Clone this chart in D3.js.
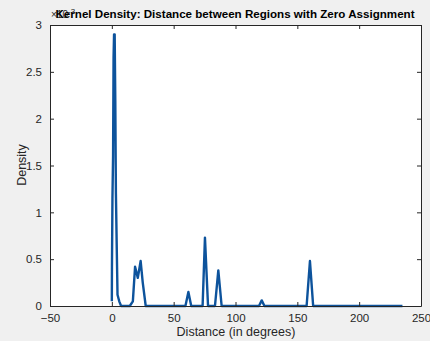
<!DOCTYPE html>
<html>
<head>
<meta charset="utf-8">
<script src="https://cdn.jsdelivr.net/npm/d3@7"></script>
<style>
  body { margin: 0; background: #f0f0f0; }
  text { font-family: "Liberation Sans", Arial, sans-serif; fill: #262626; }
</style>
</head>
<body>
<div id="chart"></div>
<script>
// distance in degrees
var distances = [0, 0.1, 0.5, 1, 1.4, 1.8, 2.3, 2.8, 3.3, 4, 4.6, 6, 7.5,
  14.5, 17, 18.8, 21, 23.3, 25, 27.4,
  59.5, 61.9, 64.2,
  73.4, 75.3, 77.8, 83.4, 86.1, 88.8,
  119, 121.2, 123.4,
  157.5, 160.2, 162.8, 235];
// density (x 10^-3)
var density = [0.05, 0.42, 1.15, 1.6, 2.65, 2.9, 2.9, 2.2, 1.2, 0.6, 0.12, 0.05, 0,
  0, 0.05, 0.42, 0.3, 0.48, 0.25, 0,
  0, 0.15, 0,
  0, 0.73, 0, 0, 0.38, 0,
  0, 0.06, 0,
  0, 0.48, 0, 0];
var xTicks = [-50, 0, 50, 100, 150, 200, 250];
var yTicks = [0, 0.5, 1, 1.5, 2, 2.5, 3];

var W = 430, H = 341;
var margin = {top: 25, right: 9, bottom: 35, left: 50};
var width = W - margin.left - margin.right;
var height = H - margin.top - margin.bottom;

var data = distances.map(function(d, i) { return {x: d, y: density[i]}; });

var svg = d3.select("#chart").append("svg")
  .attr("width", W).attr("height", H);

var g = svg.append("g")
  .attr("transform", "translate(" + margin.left + "," + margin.top + ")");

var xScale = d3.scaleLinear().domain([-50, 250]).range([0, width]);
var yScale = d3.scaleLinear().domain([0, 3]).range([height, 0]);

// plot area
g.append("rect")
  .attr("width", width).attr("height", height)
  .attr("fill", "#ffffff");

// curve
var line = d3.line()
  .x(function(d) { return xScale(d.x); })
  .y(function(d) { return yScale(d.y); });

g.append("path")
  .datum(data)
  .attr("d", line)
  .attr("fill", "none")
  .attr("stroke", "#0d539c")
  .attr("stroke-width", 2.4)
  .attr("stroke-linejoin", "round");

// axes, ticks pointing inward like matlab
function styleAxis(sel) {
  sel.selectAll("path").attr("stroke", "#262626");
  sel.selectAll("line").attr("stroke", "#262626");
  sel.selectAll("text").attr("font-size", "11.5px").style("fill", "#262626");
}

g.append("g")
  .attr("transform", "translate(0," + height + ")")
  .call(d3.axisBottom(xScale).tickValues(xTicks).tickSizeInner(-4).tickSizeOuter(0).tickPadding(8))
  .call(styleAxis)
  .attr("font-family", null);

g.append("g")
  .call(d3.axisTop(xScale).tickValues(xTicks).tickSizeInner(-4).tickSizeOuter(0).tickFormat(""))
  .call(styleAxis);

g.append("g")
  .call(d3.axisLeft(yScale).tickValues(yTicks).tickSizeInner(-4).tickSizeOuter(0).tickPadding(8)
    .tickFormat(d3.format("")))
  .call(styleAxis)
  .attr("font-family", null);

g.append("g")
  .attr("transform", "translate(" + width + ",0)")
  .call(d3.axisRight(yScale).tickValues(yTicks).tickSizeInner(-4).tickSizeOuter(0).tickFormat(""))
  .call(styleAxis);

// exponent label
var expo = svg.append("text")
  .attr("x", 51).attr("y", 18)
  .attr("font-size", "10px");
expo.append("tspan").text("\u00d710");
expo.append("tspan").attr("dy", -4).attr("font-size", "8px").text("-3");

// title
svg.append("text")
  .attr("x", 235).attr("y", 18)
  .attr("text-anchor", "middle")
  .attr("font-size", "11.6px")
  .attr("font-weight", "bold")
  .style("fill", "#000")
  .text("Kernel Density: Distance between Regions with Zero Assignment");

// axis labels
svg.append("text")
  .attr("x", 236).attr("y", 336)
  .attr("text-anchor", "middle")
  .attr("font-size", "12.5px")
  .text("Distance (in degrees)");

svg.append("text")
  .attr("transform", "translate(26,165) rotate(-90)")
  .attr("text-anchor", "middle")
  .attr("font-size", "12.5px")
  .text("Density");
</script>
</body>
</html>
